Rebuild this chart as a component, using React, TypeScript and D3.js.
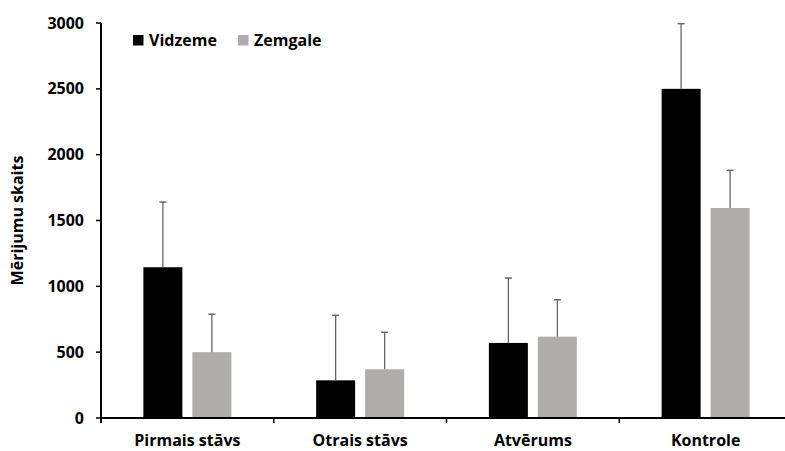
import React from "react";
import * as d3 from "d3";

const categories = ["Pirmais stāvs", "Otrais stāvs", "Atvērums", "Kontrole"];
const seriesNames = ["Vidzeme", "Zemgale"];
const vidzemeValues = [1145, 286, 570, 2500];
const vidzemeErrors = [495, 494, 493, 495];
const zemgaleValues = [500, 370, 618, 1595];
const zemgaleErrors = [288, 281, 280, 286];
const yTicks = [0, 500, 1000, 1500, 2000, 2500, 3000];

const colors = ["#000000", "#b0adad"];
const W = 785;
const H = 451;
const FONT = "'Open Sans', 'Liberation Sans', sans-serif";

export default function App() {
  const left = 101;
  const right = 792;
  const top = 23;
  const bottom = 418;
  const x = d3.scaleBand<string>().domain(categories).range([left, right]).paddingInner(0).paddingOuter(0);
  const y = d3.scaleLinear().domain([0, 3000]).range([bottom, top]);
  const barW = 39;
  const gap = 10;
  const series = [
    { name: seriesNames[0], values: vidzemeValues, errors: vidzemeErrors, color: colors[0] },
    { name: seriesNames[1], values: zemgaleValues, errors: zemgaleErrors, color: colors[1] },
  ];
  const bw = x.bandwidth();
  return (
    <svg width={W} height={H} style={{ position: "absolute", left: 0, top: 0, background: "#fff" }}>
      <rect x={0} y={0} width={W} height={H} fill="#fff" />
      {series.map((s, si) =>
        categories.map((c, ci) => {
          const cx = (x(c) as number) + bw / 2;
          const bx = si === 0 ? cx - gap / 2 - barW : cx + gap / 2;
          const v = s.values[ci];
          const e = s.errors[ci];
          const mid = bx + barW / 2;
          return (
            <g key={`${si}-${ci}`}>
              <rect x={bx} y={y(v)} width={barW} height={bottom - y(v)} fill={s.color} />
              <line x1={mid} x2={mid} y1={y(v)} y2={y(v + e)} stroke="#666" strokeWidth={1.3} />
              <line x1={mid - 3.5} x2={mid + 3.5} y1={y(v + e)} y2={y(v + e)} stroke="#666" strokeWidth={1.5} />
            </g>
          );
        })
      )}
      {/* y axis */}
      <line x1={left} x2={left} y1={top} y2={bottom + 5} stroke="#000" strokeWidth={2} />
      {yTicks.map((t) => (
        <g key={t}>
          <line x1={left - 5} x2={left} y1={y(t)} y2={y(t)} stroke="#000" strokeWidth={1.5} />
          <text x={left - 17} y={y(t)} dy="0.35em" textAnchor="end" fontFamily={FONT} fontWeight="bold" fontSize={16} fill="#000">
            {t}
          </text>
        </g>
      ))}
      {/* x axis */}
      <line x1={left} x2={W} y1={bottom} y2={bottom} stroke="#000" strokeWidth={2} />
      {categories.map((c, i) => (
        <g key={c}>
          {i > 0 && <line x1={x(c)} x2={x(c)} y1={bottom} y2={bottom + 5} stroke="#000" strokeWidth={1.5} />}
          <text x={(x(c) as number) + bw / 2} y={446} textAnchor="middle" fontFamily={FONT} fontWeight="bold" fontSize={16} fill="#000">
            {c}
          </text>
        </g>
      ))}
      {/* y title */}
      <text transform={`translate(23,${(top + bottom) / 2}) rotate(-90)`} textAnchor="middle" fontFamily={FONT} fontWeight="bold" fontSize={16} fill="#000">
        Mērijumu skaits
      </text>
      {/* legend */}
      {series.map((s, i) => {
        const lx = i === 0 ? 133 : 238;
        return (
          <g key={s.name}>
            <rect x={lx} y={35} width={10.5} height={10.5} fill={s.color} />
            <text x={lx + 16} y={46} fontFamily={FONT} fontWeight="bold" fontSize={16} fill="#000">
              {s.name}
            </text>
          </g>
        );
      })}
    </svg>
  );
}
